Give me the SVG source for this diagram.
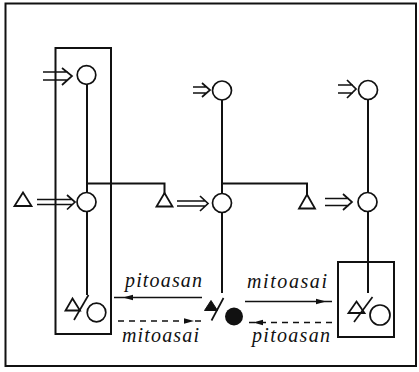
<svg xmlns="http://www.w3.org/2000/svg" width="419" height="372" viewBox="0 0 419 372">
<style>
.ln{fill:none;stroke:#111;stroke-width:2;stroke-linecap:square}
.th{fill:none;stroke:#111;stroke-width:1.7}
.ci{fill:#fff;stroke:#111;stroke-width:1.7}
.tri{fill:#fff;stroke:#111;stroke-width:1.8;stroke-linejoin:miter}
.dbl{fill:none;stroke:#111;stroke-width:1.7}
.dash{stroke-dasharray:6 5}
.lbl{font-family:"Liberation Serif","Times New Roman",serif;font-style:italic;font-size:20px;fill:#111}
.ah{fill:#111;stroke:none}
</style>
<defs>
<path id="headL" d="M-6 0 L4 -2.8 L4 2.8 Z"/>
<path id="headR" d="M6 0 L-4 -2.8 L-4 2.8 Z"/>
</defs>
<rect class="ln" x="5.5" y="3.5" width="410.5" height="362.5"/>
<g id="connectors">
  <path class="ln" d="M87 84.5 V192.5 M87 211.5 V294"/>
  <path class="ln" d="M87 183.5 H164.5 V193"/>
  <path class="ln" d="M222 100 V193 M222 212.5 V292"/>
  <path class="ln" d="M222 183.5 H307 V194.5"/>
  <path class="ln" d="M368 99.5 V192.5 M368 211.5 V292"/>
  <path class="dbl" d="M43 72 H68 M43 80 H68 M62 68 L72 76 L62 85"/>
  <path class="dbl" d="M37 199.5 H72 M37 204.5 H72 M67 195 L75 202 L67 209.5"/>
  <path class="dbl" d="M193 87 H207 M193 93 H207 M202 83 L210 90 L202 97"/>
  <path class="dbl" d="M338 85 H353 M338 93 H353 M347 80 L356 89 L347 98"/>
  <path class="dbl" d="M177 201 H205 M177 206 H205 M200 196 L208 203.5 L200 211"/>
  <path class="dbl" d="M325 198.5 H349 M325 205.5 H349 M343 194 L352 202 L343 210"/>
  <line class="th" x1="114" y1="297.5" x2="202" y2="297.5"/>
  <use href="#headL" class="ah" x="129" y="297.5"/>
  <line class="th dash" x1="118" y1="321" x2="201" y2="321"/>
  <use href="#headR" class="ah" x="188" y="321"/>
  <line class="th" x1="245" y1="301.5" x2="332" y2="301.5"/>
  <use href="#headR" class="ah" x="320" y="301.5"/>
  <line class="th dash" x1="249" y1="322.5" x2="332" y2="322.5"/>
  <use href="#headL" class="ah" x="259" y="322.5"/>
</g>
<g id="box-left"><rect class="ln" x="55.5" y="48" width="55.5" height="286"/></g>
<g id="box-right"><rect class="ln" x="338" y="262" width="56" height="75"/></g>
<g id="n-tl"><circle class="ci" cx="86.5" cy="75" r="9.3"/></g>
<g id="n-ml"><circle class="ci" cx="86.5" cy="202" r="9.5"/></g>
<g id="n-tm"><circle class="ci" cx="222" cy="90.5" r="9.5"/></g>
<g id="n-mm"><circle class="ci" cx="222" cy="203" r="9.5"/></g>
<g id="n-tr"><circle class="ci" cx="368" cy="90" r="9.5"/></g>
<g id="n-mr"><circle class="ci" cx="367.5" cy="202" r="9.5"/></g>
<g id="t-left"><path class="tri" d="M23 192.5 L31.5 206 L14.5 206 Z"/></g>
<g id="t-b1"><path class="tri" d="M164.5 193 L172.5 206.5 L156.5 206.5 Z"/></g>
<g id="t-b2"><path class="tri" d="M307 194.5 L315 208.5 L299 208.5 Z"/></g>
<g id="s-left">
  <path class="tri" d="M72.5 298.5 L80 310.5 L65.5 310.5 Z"/>
  <line class="th" x1="74" y1="320" x2="88.5" y2="295"/>
  <circle class="ci" cx="96.5" cy="312.5" r="9.3"/>
</g>
<g id="s-mid">
  <path fill="#111" stroke="#111" stroke-width="1" d="M211 300.5 L217.5 310.5 L204.5 310.5 Z"/>
  <line class="th" x1="211.5" y1="320.5" x2="223.5" y2="298"/>
  <circle fill="#111" cx="234" cy="316.5" r="9"/>
</g>
<g id="s-right">
  <path class="tri" d="M356.5 301.5 L364.5 313 L348.5 313 Z"/>
  <line class="th" x1="354" y1="322" x2="372.5" y2="297"/>
  <circle class="ci" cx="380" cy="315" r="10"/>
</g>
<text class="lbl" x="125" y="287" textLength="77" lengthAdjust="spacing">pitoasan</text>
<text class="lbl" x="122" y="341.5" textLength="77" lengthAdjust="spacing">mitoasai</text>
<text class="lbl" x="247" y="288" textLength="80" lengthAdjust="spacing">mitoasai</text>
<text class="lbl" x="252" y="342" textLength="78" lengthAdjust="spacing">pitoasan</text>
</svg>
